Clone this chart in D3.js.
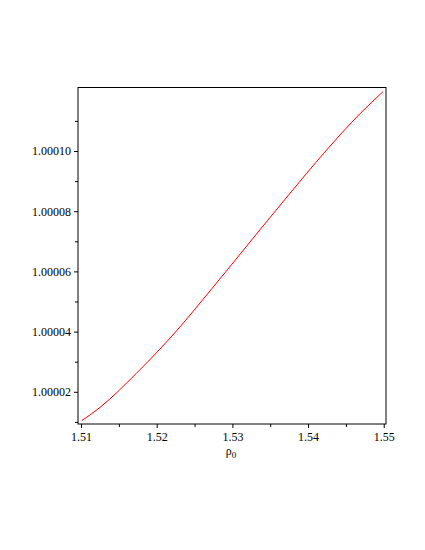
<!DOCTYPE html>
<html>
<head>
<meta charset="utf-8">
<script src="https://cdn.jsdelivr.net/npm/d3@7"></script>
<style>
  body { margin: 0; background: #fff; }
  text { font-family: "Liberation Serif", "DejaVu Serif", serif; font-size: 12px; fill: #000; }
</style>
</head>
<body>
<div id="chart"></div>
<script>
// datos
const rho0 = [1.5101, 1.5125, 1.5173, 1.5226, 1.5273, 1.5326, 1.5374, 1.5422, 1.5469, 1.5499]
const valores = [1.0000104, 1.0000148, 1.0000261, 1.0000402, 1.0000543, 1.0000706, 1.0000853, 1.0000996, 1.0001125, 1.0001197]
const xTicks = [1.51, 1.52, 1.53, 1.54, 1.55]
const xMinor = [1.515, 1.525, 1.535, 1.545]
const yTicks = [1.00002, 1.00004, 1.00006, 1.00008, 1.00010]
const yMinor = [1.00001, 1.00003, 1.00005, 1.00007, 1.00009, 1.00011]

const width = 425
const height = 550
const box = { left: 78, right: 386, top: 87.5, bottom: 424 }

const svg = d3.select("#chart").append("svg").attr("width", width).attr("height", height)

const x = d3.scaleLinear().domain([1.5096, 1.5503]).range([box.left, box.right])
const y = d3.scaleLinear().domain([1.0000093, 1.0001211]).range([box.bottom, box.top])

// marco
svg.append("rect")
    .attr("x", box.left).attr("y", box.top)
    .attr("width", box.right - box.left).attr("height", box.bottom - box.top)
    .attr("fill", "none").attr("stroke", "#000").attr("stroke-width", 1)

// ejes
const xAxisGroup = svg.append("g").attr("transform", `translate(0, ${box.bottom})`)
xAxisGroup.call(d3.axisBottom(x).tickValues(xTicks).tickSize(4).tickPadding(4).tickFormat(d3.format(".2f")))
xAxisGroup.append("g").call(d3.axisBottom(x).tickValues(xMinor).tickSize(3).tickFormat(""))

const yAxisGroup = svg.append("g").attr("transform", `translate(${box.left}, 0)`)
yAxisGroup.call(d3.axisLeft(y).tickValues(yTicks).tickSize(4).tickPadding(3).tickFormat(d3.format(".5f")))
yAxisGroup.append("g").call(d3.axisLeft(y).tickValues(yMinor).tickSize(3).tickFormat(""))

svg.selectAll(".domain").remove()
svg.selectAll(".tick line").attr("stroke", "#000")
svg.selectAll(".tick text").attr("fill", "#000").attr("font-family", "Liberation Serif, serif").attr("font-size", 12)

// etiqueta del eje x
const lbl = svg.append("text").attr("x", 231).attr("y", 455).attr("text-anchor", "middle")
lbl.append("tspan").text("ρ")
lbl.append("tspan").attr("dy", 3).attr("font-size", 9).text("0")

// curva
const line = d3.line().x((d, i) => x(rho0[i])).y(d => y(d)).curve(d3.curveMonotoneX)
svg.append("path")
    .datum(valores)
    .attr("d", line)
    .attr("fill", "none")
    .attr("stroke", "#ff0000")
    .attr("stroke-width", 1)
</script>
</body>
</html>
